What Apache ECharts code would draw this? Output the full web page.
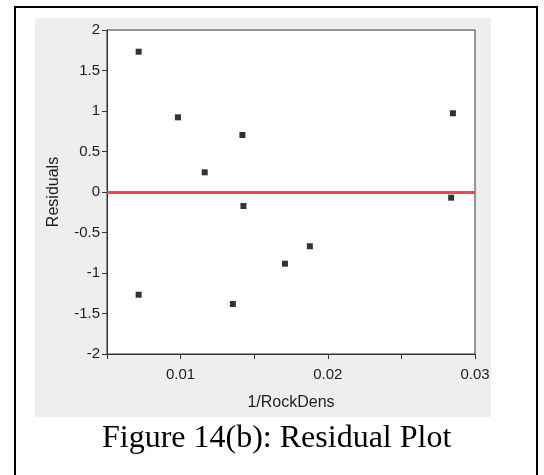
<!DOCTYPE html>
<html>
<head>
<meta charset="utf-8">
<script src="https://cdn.jsdelivr.net/npm/echarts@6/dist/echarts.min.js"></script>
<style>
html,body{margin:0;padding:0;background:#fff;}
#chart{width:544px;height:475px;}
</style>
</head>
<body>
<div id="chart"></div>
<script>
// Data
const invRockDens = [0.00715, 0.00982, 0.01420, 0.01164, 0.02850, 0.01427, 0.01709, 0.00715, 0.01355, 0.02838, 0.01878];
const residuals   = [1.732, 0.922, 0.704, 0.243, 0.972, -0.173, -0.885, -1.268, -1.383, -0.070, -0.670];
const xTickLabels = ['0.01', '0.02', '0.03'];
const zeroLine = 0;
const titleText = 'Figure 14(b): Residual Plot';

const points = invRockDens.map((x, i) => [x, residuals[i]]);
const chart = echarts.init(document.getElementById('chart'), null, {renderer: 'canvas'});
const tickFont = {fontFamily: 'Liberation Sans, Arial, sans-serif', fontSize: 15, color: '#1c1c24'};
const nameFont = {fontFamily: 'Liberation Sans, Arial, sans-serif', fontSize: 16, color: '#1c1c24'};

chart.setOption({
  animation: false,
  backgroundColor: '#ffffff',
  graphic: [
    {type: 'rect', z: -5, silent: true, shape: {x: 35, y: 18, width: 456, height: 399}, style: {fill: '#eeeeee'}},
    {type: 'rect', z: 100, silent: true, shape: {x: 15, y: 7, width: 522, height: 490}, style: {fill: 'none', stroke: '#000', lineWidth: 2}}
  ],
  title: {
    text: titleText,
    left: 97,
    top: 418,
    textStyle: {fontFamily: 'Liberation Serif, Times New Roman, serif', fontSize: 32, fontWeight: 'normal', color: '#000', lineHeight: 32}
  },
  grid: {
    left: 107, right: 69, top: 30, bottom: 121,
    show: true, backgroundColor: '#ffffff', borderColor: '#333', borderWidth: 1
  },
  xAxis: {
    type: 'value',
    min: 0.005, max: 0.03, interval: 0.005,
    name: '1/RockDens', nameLocation: 'middle', nameGap: 41,
    nameTextStyle: nameFont,
    axisLine: {show: true, onZero: false, lineStyle: {color: '#333', width: 1}},
    axisTick: {show: true, inside: false, length: 5, lineStyle: {color: '#333'}},
    splitLine: {show: false},
    axisLabel: Object.assign({margin: 13, formatter: v => {
      const s = v.toFixed(2);
      return (Math.abs(v * 100 - Math.round(v * 100)) < 1e-6 && xTickLabels.includes(s)) ? s : '';
    }}, tickFont)
  },
  yAxis: {
    type: 'value',
    min: -2, max: 2, interval: 0.5,
    name: 'Residuals', nameLocation: 'middle', nameGap: 45,
    nameTextStyle: nameFont,
    axisLine: {show: true, onZero: false, lineStyle: {color: '#333', width: 1}},
    axisTick: {show: true, inside: false, length: 5, lineStyle: {color: '#333'}},
    splitLine: {show: false},
    axisLabel: Object.assign({margin: 7, formatter: v => String(v)}, tickFont)
  },
  series: [{
    type: 'scatter',
    data: points,
    symbol: 'rect',
    symbolSize: 6,
    itemStyle: {color: '#000'},
    z: 5,
    markLine: {
      silent: true,
      symbol: ['none', 'none'],
      label: {show: false},
      lineStyle: {color: '#ea4655', width: 3, type: 'solid'},
      data: [{yAxis: zeroLine}]
    }
  }]
});
</script>
</body>
</html>
